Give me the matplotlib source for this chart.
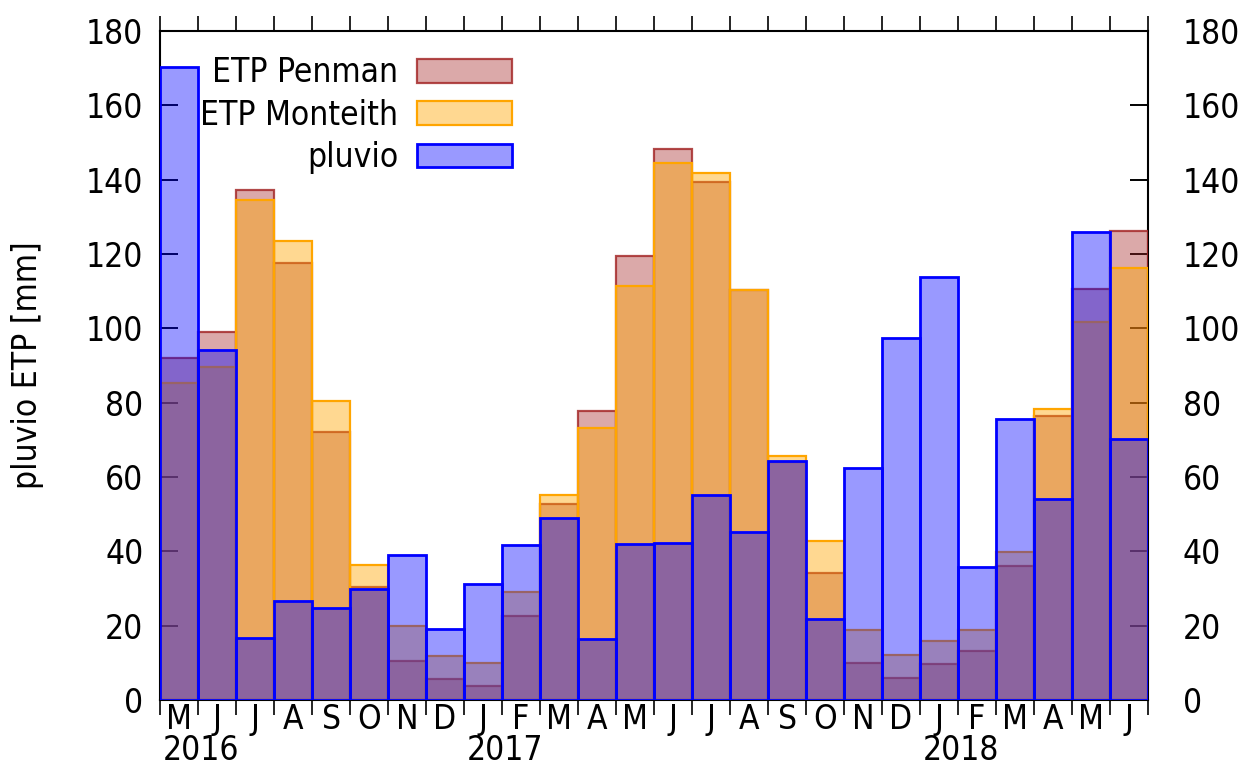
import matplotlib
matplotlib.use("Agg")
import matplotlib.pyplot as plt
import numpy as np
from matplotlib.patches import Patch
from matplotlib.ticker import FixedLocator, MultipleLocator

months = ["M", "J", "J", "A", "S", "O", "N", "D", "J", "F", "M", "A", "M",
          "J", "J", "A", "S", "O", "N", "D", "J", "F", "M", "A", "M", "J"]
years = ["2016", "2017", "2018"]
year_start_idx = [0, 8, 20]

penman = [92.0, 99.0, 137.2, 117.5, 72.0, 30.5, 10.5, 5.6, 3.9, 22.6, 52.7, 77.8, 119.4,
          148.2, 139.5, 110.4, 64.0, 34.1, 10.0, 6.0, 9.6, 13.3, 36.1, 76.4, 110.6, 126.3]
monteith = [85.3, 89.7, 134.5, 123.6, 80.5, 36.3, 20.0, 11.8, 9.9, 29.1, 55.2, 73.3, 111.4,
            144.6, 141.9, 110.3, 65.6, 42.9, 18.8, 12.0, 16.0, 18.8, 39.9, 78.2, 101.8, 116.1]
pluvio = [170.2, 94.2, 16.6, 26.7, 24.7, 30.0, 39.0, 19.0, 31.2, 41.7, 49.1, 16.5, 41.9,
          42.3, 55.2, 45.2, 64.3, 21.8, 62.5, 97.5, 113.7, 35.9, 75.5, 54.1, 125.8, 70.1]

FONT = dict(family="DejaVu Sans", stretch="condensed")
FS = 24

fig = plt.figure(figsize=(12.45, 7.67), dpi=100)
ax = fig.add_axes([160/1245, 1-700/767, (1148-160)/1245, (700-31)/767])

x = np.arange(len(months))
pen_fc = (165/255, 42/255, 42/255, 0.4)
pen_ec = (165/255, 42/255, 42/255, 0.85)
mon_fc = (1.0, 165/255, 0.0, 0.43)
mon_ec = (1.0, 165/255, 0.0, 1.0)
plu_fc = (0.0, 0.0, 1.0, 0.4)
plu_ec = (0.0, 0.0, 1.0, 1.0)

ax.bar(x, penman, width=1.0, facecolor=pen_fc, edgecolor=pen_ec, linewidth=1.6, zorder=2)
ax.bar(x, monteith, width=1.0, facecolor=mon_fc, edgecolor=mon_ec, linewidth=1.6, zorder=3)
ax.bar(x, pluvio, width=1.0, facecolor=plu_fc, edgecolor=plu_ec, linewidth=2.0, zorder=4)

ax.set_xlim(-0.5, len(months) - 0.5)
ax.set_ylim(0, 180)
ax.set_axisbelow(True)

edges = np.arange(-0.5, len(months), 1.0)
ax.xaxis.set_major_locator(FixedLocator(x))
ax.set_xticklabels(months, fontsize=FS, **FONT)
ax.xaxis.set_minor_locator(FixedLocator(edges))
ax.tick_params(axis="x", which="major", length=0, pad=2)
ax.tick_params(axis="x", which="minor", direction="out", length=11, width=1.2,
               top=True, bottom=True)

ax.yaxis.set_major_locator(MultipleLocator(20))
ax.tick_params(axis="y", which="major", direction="in", length=13, width=1.4,
               left=True, right=False, labelleft=True, labelright=False, pad=12)
for lab in ax.get_yticklabels():
    lab.set_fontsize(FS)
    lab.set_family("DejaVu Sans")
    lab.set_fontstretch("condensed")

axr = ax.twinx()
axr.set_ylim(0, 180)
axr.yaxis.set_major_locator(MultipleLocator(20))
axr.tick_params(axis="y", which="major", direction="in", length=13, width=1.4,
                pad=25)
for lab in axr.get_yticklabels():
    lab.set_fontsize(FS)
    lab.set_family("DejaVu Sans")
    lab.set_fontstretch("condensed")
axr.set_zorder(0)
for s in axr.spines.values():
    s.set_visible(False)
ax.set_zorder(1)
ax.patch.set_visible(False)

for s in ax.spines.values():
    s.set_linewidth(1.5)
    s.set_zorder(1)

for yr, i in zip(years, year_start_idx):
    ax.text(i - 0.5 + 0.06, -0.075, yr, transform=ax.get_xaxis_transform(),
            ha="left", va="center", fontsize=FS, **FONT)

ax.set_ylabel("pluvio ETP [mm]", fontsize=FS, labelpad=30, **FONT)

handles = [Patch(facecolor=pen_fc, edgecolor=pen_ec, linewidth=1.6),
           Patch(facecolor=mon_fc, edgecolor=mon_ec, linewidth=1.6),
           Patch(facecolor=plu_fc, edgecolor=plu_ec, linewidth=2.0)]
leg = ax.legend(handles, ["ETP Penman", "ETP Monteith", "pluvio"],
                loc="upper right", bbox_to_anchor=(0.356, 0.962),
                frameon=False, markerfirst=False, borderpad=0, borderaxespad=0,
                handlelength=2.85, handleheight=0.72, handletextpad=0.55,
                labelspacing=0.28, prop=dict(size=FS, family="DejaVu Sans", stretch="condensed"))
leg.set_zorder(10)

fig.savefig("out.png", dpi=100, facecolor="white")
